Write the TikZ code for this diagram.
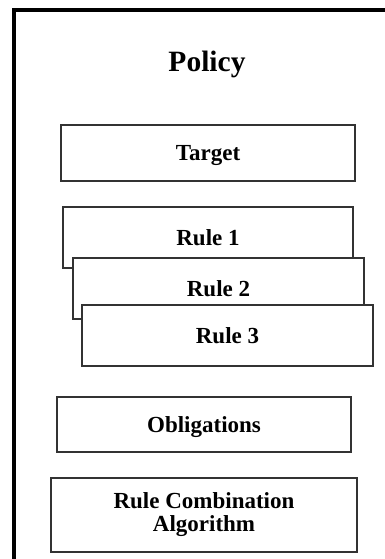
\documentclass[tikz,border=0pt]{standalone}
\usepackage{fontspec}
\setmainfont{Liberation Serif}
\begin{document}
\begin{tikzpicture}[x=1pt,y=-1pt,line join=miter]
			\tikzset{part box/.style={draw=black!80,line width=1.2pt,fill=white,inner sep=0pt,align=center,font=\fontsize{23}{23}\selectfont\bfseries},
				one line/.style={text height=15pt,text depth=0pt}}
			\useasboundingbox (0,0) rectangle (384,559);
			% outer policy frame (only top and left edges show)
			\draw[line width=4pt] (13.5,570)--(13.5,10)--(400,10);
			\node[one line,text height=19pt] (policy) at (207,62.5) {\fontsize{29.5}{29.5}\selectfont\bfseries Policy};
			\node[part box,one line,minimum width=294,minimum height=56] (target) at (208,153) {Target};
			\node[part box,one line,minimum width=290,minimum height=61] (rule1) at (208,237.5) {Rule 1};
			\node[part box,one line,minimum width=291,minimum height=61] (rule2) at (218.5,288.5) {Rule 2};
			\node[part box,one line,minimum width=291,minimum height=61] (rule3) at (227.5,335.5) {Rule 3};
			\node[part box,one line,minimum width=294,minimum height=55] (obligations) at (204,424.5) {Obligations};
			\node[part box,minimum width=306,minimum height=74] (algorithm) at (204,515) {Rule Combination\\Algorithm};
	\end{tikzpicture}
\end{document}
